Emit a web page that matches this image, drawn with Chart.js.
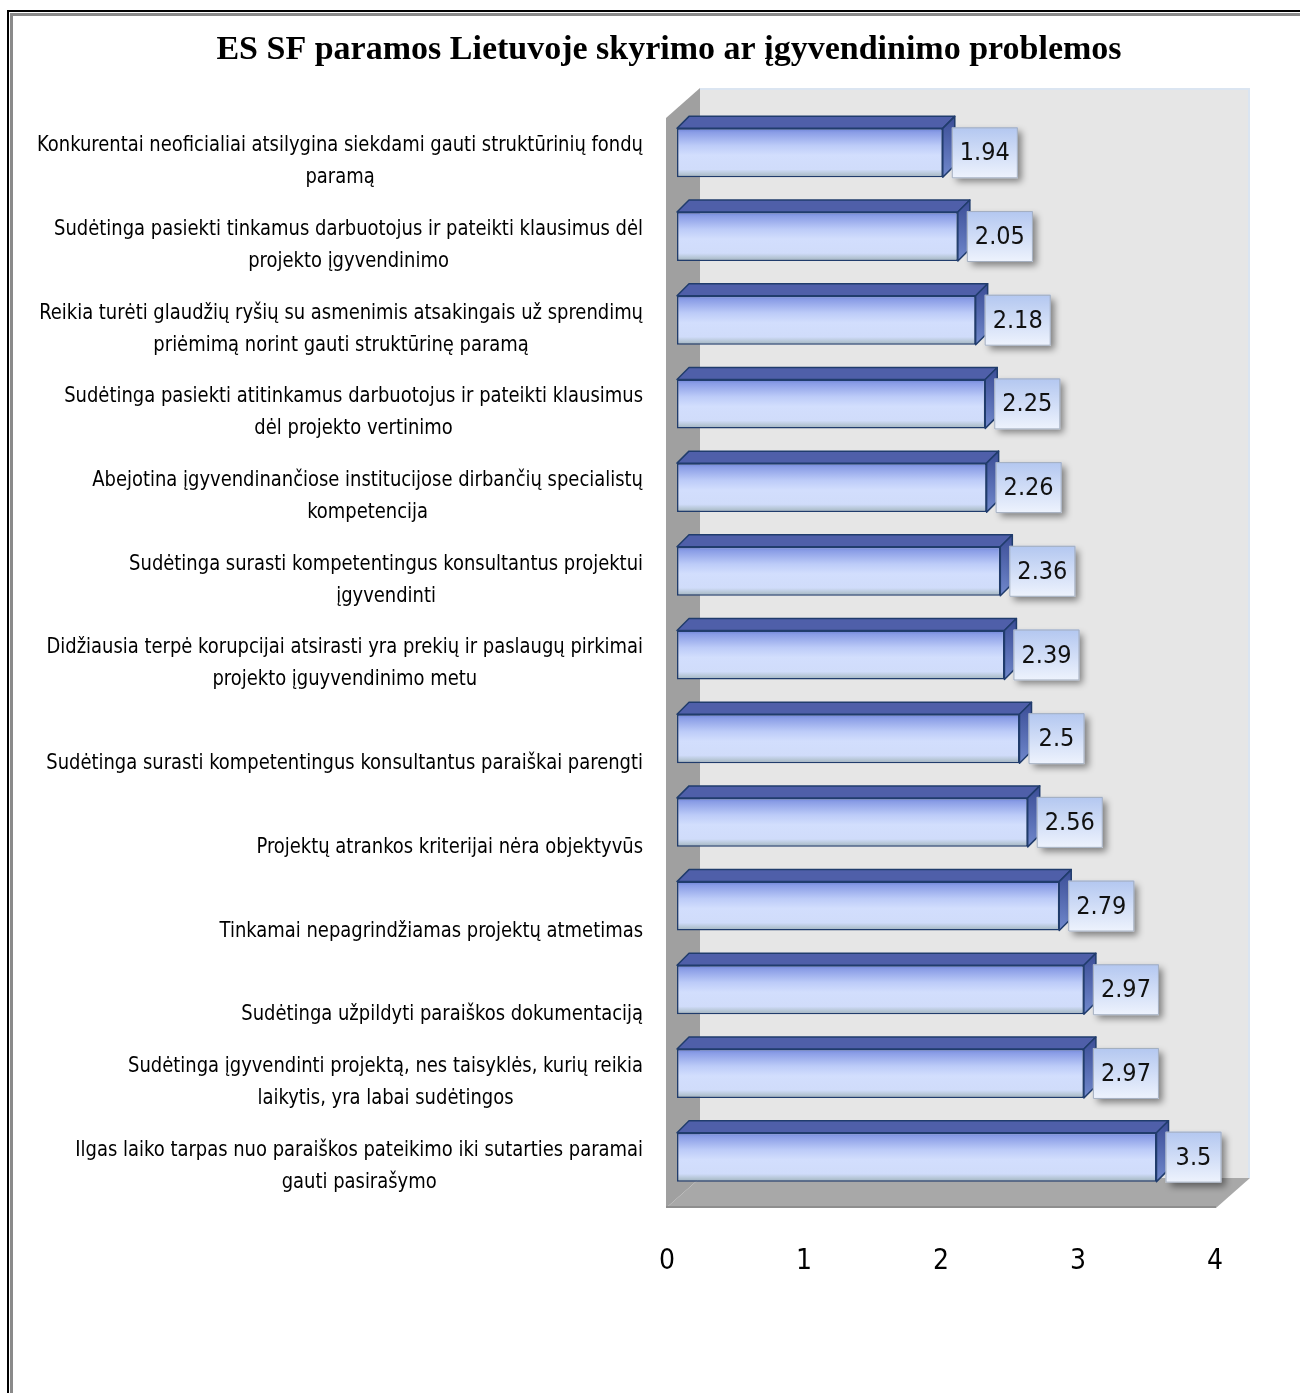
<!DOCTYPE html>
<html><head><meta charset="utf-8">
<script src="https://cdn.jsdelivr.net/npm/chart.js@4.4.1/dist/chart.umd.min.js"></script>
<style>
html,body{margin:0;padding:0;background:#fff;overflow:hidden;width:1300px;height:1393px;}
#wrap{position:relative;width:1300px;height:1393px;overflow:hidden;}
canvas{position:absolute;left:0;top:0;}
.f1{position:absolute;left:7px;top:10px;width:1400px;height:1500px;border-left:2px solid #000;border-top:2px solid #000;}
.f2{position:absolute;left:10px;top:13px;width:1400px;height:1500px;border-left:3px solid #8a8a8a;border-top:3px solid #8a8a8a;}
</style></head>
<body><div id="wrap"><div class="f1"></div><div class="f2"></div><canvas id="c" width="1300" height="1393"></canvas></div>
<script>
const chartTitle = 'ES SF paramos Lietuvoje skyrimo ar įgyvendinimo problemos';
const categories = [
  ['Konkurentai neoficialiai atsilygina siekdami gauti struktūrinių fondų', 'paramą'],
  ['Sudėtinga pasiekti tinkamus darbuotojus ir pateikti klausimus dėl', 'projekto įgyvendinimo'],
  ['Reikia turėti glaudžių ryšių su asmenimis atsakingais už sprendimų', 'priėmimą norint gauti struktūrinę paramą'],
  ['Sudėtinga pasiekti atitinkamus darbuotojus ir pateikti klausimus', 'dėl projekto vertinimo'],
  ['Abejotina įgyvendinančiose institucijose dirbančių specialistų', 'kompetencija'],
  ['Sudėtinga surasti kompetentingus konsultantus projektui', 'įgyvendinti'],
  ['Didžiausia terpė korupcijai atsirasti yra prekių ir paslaugų pirkimai', 'projekto įguyvendinimo metu'],
  ['Sudėtinga surasti kompetentingus konsultantus paraiškai parengti'],
  ['Projektų atrankos kriterijai nėra objektyvūs'],
  ['Tinkamai nepagrindžiamas projektų atmetimas'],
  ['Sudėtinga užpildyti paraiškos dokumentaciją'],
  ['Sudėtinga įgyvendinti projektą, nes taisyklės, kurių reikia', 'laikytis, yra labai sudėtingos'],
  ['Ilgas laiko tarpas nuo paraiškos pateikimo iki sutarties paramai', 'gauti pasirašymo']
];
const values = [1.94, 2.05, 2.18, 2.25, 2.26, 2.36, 2.39, 2.5, 2.56, 2.79, 2.97, 2.97, 3.5];
const valueLabels = ['1.94', '2.05', '2.18', '2.25', '2.26', '2.36', '2.39', '2.5', '2.56', '2.79', '2.97', '2.97', '3.5'];
const xTickValues = [0, 1, 2, 3, 4];

const NARROW = '"Liberation Sans Narrow", "DejaVu Sans Condensed", "Arial Narrow", sans-serif';
const BAR_DX = 10;   // front face shift into depth
const D = 12;        // bar depth
const WDX = 34, WDY = -30; // wall depth

function frontGradient(c) {
  const chart = c.chart;
  const ys = chart.scales.y;
  if (!chart.chartArea || !ys) return '#c8d4fa';
  const yc = ys.getPixelForValue(c.dataIndex);
  const h = (ys.getPixelForValue(1) - ys.getPixelForValue(0)) * 0.585;
  const g = chart.ctx.createLinearGradient(0, yc - h / 2, 0, yc + h / 2);
  g.addColorStop(0, '#6f83d8');
  g.addColorStop(0.08, '#8a9de6');
  g.addColorStop(0.35, '#bccbf8');
  g.addColorStop(0.55, '#d2defd');
  g.addColorStop(0.84, '#d0dcfa');
  g.addColorStop(0.93, '#b6c6d6');
  g.addColorStop(1, '#9fb1be');
  return g;
}

const scene = {
  id: 'scene',
  beforeDatasetsDraw(chart) {
    const {ctx, chartArea: a} = chart;
    const L = a.left - 1, R = a.right + 1, T = a.top + 7, B = a.bottom + 9;
    ctx.save();
    ctx.fillStyle = '#e6e6e6';
    ctx.fillRect(L + WDX, T + WDY, R - L, B - T);
    ctx.fillStyle = '#dbe5f1';
    ctx.fillRect(L + WDX, T + WDY, R - L, 2);
    ctx.fillRect(R + WDX - 2, T + WDY, 2, B - T);
    ctx.fillStyle = '#a0a0a0';
    ctx.beginPath();
    ctx.moveTo(L, T); ctx.lineTo(L + WDX, T + WDY); ctx.lineTo(L + WDX, B + WDY); ctx.lineTo(L, B); ctx.closePath();
    ctx.fill();
    ctx.fillStyle = '#a8a8a8';
    ctx.beginPath();
    ctx.moveTo(L, B); ctx.lineTo(L + WDX, B + WDY); ctx.lineTo(R + WDX, B + WDY); ctx.lineTo(R, B); ctx.closePath();
    ctx.fill();
    ctx.fillStyle = '#8e8e8e';
    ctx.fillRect(L, B - 2, R - L, 2);
    ctx.restore();
    ctx.save();
    ctx.translate(BAR_DX, 0);
  },
  afterDatasetsDraw(chart) {
    const {ctx} = chart;
    const meta = chart.getDatasetMeta(0);
    ctx.lineWidth = 1.5;
    ctx.strokeStyle = '#203c6c';
    ctx.lineJoin = 'round';
    meta.data.forEach((el) => {
      const p = el.getProps(['x', 'y', 'base', 'height'], true);
      const yT = p.y - p.height / 2, yB = p.y + p.height / 2, x0 = p.base, x1 = p.x;
      ctx.fillStyle = '#4f5fa9';
      ctx.beginPath();
      ctx.moveTo(x0, yT); ctx.lineTo(x0 + D, yT - D); ctx.lineTo(x1 + D, yT - D); ctx.lineTo(x1, yT); ctx.closePath();
      ctx.fill(); ctx.stroke();
      const g = ctx.createLinearGradient(0, yT - D, 0, yB);
      g.addColorStop(0, '#3b4d96');
      g.addColorStop(1, '#7088cc');
      ctx.fillStyle = g;
      ctx.beginPath();
      ctx.moveTo(x1, yT); ctx.lineTo(x1 + D, yT - D); ctx.lineTo(x1 + D, yB - D); ctx.lineTo(x1, yB); ctx.closePath();
      ctx.fill(); ctx.stroke();
    });
    ctx.font = '25px ' + NARROW;
    meta.data.forEach((el, i) => {
      const p = el.getProps(['x', 'y', 'base', 'height'], true);
      const yT = p.y - p.height / 2, yB = p.y + p.height / 2;
      const txt = valueLabels[i];
      const tw = ctx.measureText(txt).width;
      const w = Math.max(tw + 16, 56);
      const bx = p.x + 9, by = yT - 1, bh = yB - yT + 2;
      ctx.save();
      ctx.shadowColor = 'rgba(0,0,0,0.45)';
      ctx.shadowBlur = 7;
      ctx.shadowOffsetX = 4;
      ctx.shadowOffsetY = 4;
      const g = ctx.createLinearGradient(0, by, 0, by + bh);
      g.addColorStop(0, '#b3c7f0');
      g.addColorStop(1, '#eef3fd');
      ctx.fillStyle = g;
      ctx.fillRect(bx, by, w, bh);
      ctx.restore();
      ctx.strokeStyle = '#a3aebf';
      ctx.lineWidth = 1;
      ctx.strokeRect(bx + 0.5, by + 0.5, w - 1, bh - 1);
      ctx.fillStyle = '#111';
      ctx.textAlign = 'center';
      ctx.textBaseline = 'middle';
      ctx.fillText(txt, bx + w / 2, p.y + 1);
    });
    ctx.restore();
  },
  afterDraw(chart) {
    const {ctx} = chart;
    const ys = chart.scales.y;
    ctx.save();
    ctx.font = 'bold 34px "Liberation Serif", "DejaVu Serif", serif';
    ctx.fillStyle = '#000';
    ctx.textAlign = 'center';
    ctx.textBaseline = 'middle';
    ctx.fillText(chartTitle, 669, 50);
    // category labels: block right-aligned at rightX, lines centred within block
    ctx.font = '21px ' + NARROW;
    const rightX = 643, lineH = 32, targetW = 606;
    const sx = targetW / ctx.measureText(categories[0][0]).width;
    categories.forEach((lines, i) => {
      const yc = ys.getPixelForValue(i);
      const widths = lines.map(l => ctx.measureText(l).width * sx);
      const bw = Math.max(...widths);
      const cx = rightX - bw / 2;
      const yLast = yc + 25;
      lines.forEach((l, j) => {
        const y = yLast - (lines.length - 1 - j) * lineH;
        ctx.save();
        ctx.translate(cx, y);
        ctx.scale(sx, 1);
        ctx.fillText(l, 0, 0);
        ctx.restore();
      });
    });
    ctx.restore();
  }
};

new Chart(document.getElementById('c').getContext('2d'), {
  type: 'bar',
  data: {
    labels: categories,
    datasets: [{
      data: values,
      backgroundColor: frontGradient,
      borderColor: '#203c6c',
      borderWidth: 1.5,
      borderSkipped: false,
      barPercentage: 0.585,
      categoryPercentage: 1
    }]
  },
  options: {
    indexAxis: 'y',
    responsive: false,
    animation: false,
    devicePixelRatio: 1,
    layout: {padding: {top: 111, right: 85, bottom: 112, left: 0}},
    plugins: {legend: {display: false}, tooltip: {enabled: false}, title: {display: false}},
    scales: {
      x: {
        min: 0, max: 4,
        position: 'bottom',
        grid: {display: false, drawTicks: false},
        border: {display: false},
        afterBuildTicks: s => { s.ticks = xTickValues.map(v => ({value: v})); },
        afterFit: s => { s.height = 82; },
        ticks: {font: {family: NARROW, size: 28}, color: '#000', padding: 46}
      },
      y: {
        grid: {display: false, drawTicks: false},
        border: {display: false},
        ticks: {display: false},
        afterFit: s => { s.width = 667; }
      }
    }
  },
  plugins: [scene]
});
</script>
</body></html>
